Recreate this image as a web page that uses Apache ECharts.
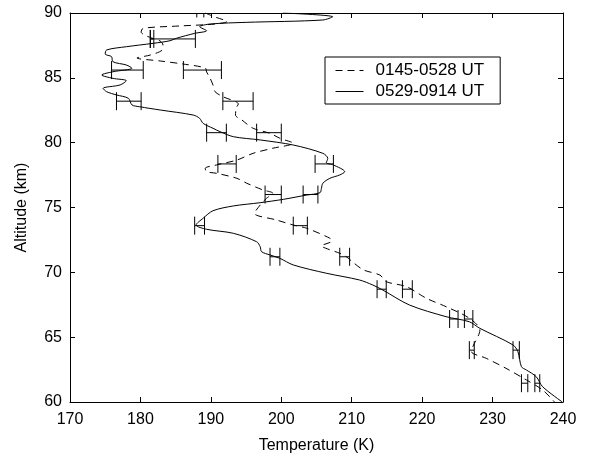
<!DOCTYPE html>
<html>
<head>
<meta charset="utf-8">
<script src="https://cdn.jsdelivr.net/npm/echarts@6/dist/echarts.min.js"></script>
<style>html,body{margin:0;padding:0;background:#fff}#c{width:589px;height:459px}</style>
</head>
<body>
<div id="c"></div>
<script>
// Temperature (K), Altitude (km) profiles
const seriesNames = ['0145-0528 UT', '0529-0914 UT'];
const dashedProfile = [[189.2,90.0],[190.6,89.69],[192.3,89.34],[190.6,89.15],[185.6,89.0],[180.4,88.82],[180.1,88.53],[180.6,88.30],[181.6,88.07],[182.8,87.84],[183.2,87.53],[183.1,87.15],[181.4,86.76],[179.5,86.53],[182.8,86.30],[186.0,86.07],[189.2,85.76],[189.4,85.45],[189.9,84.96],[190.3,84.45],[190.6,83.93],[191.7,83.55],[193.9,82.98],[193.6,82.67],[193.5,82.13],[194.4,81.75],[196.0,81.11],[198.4,80.72],[199.8,80.34],[201.7,79.95],[198.8,79.57],[196.0,79.18],[193.7,78.66],[190.8,78.28],[189.2,78.02],[189.4,77.76],[190.8,77.64],[193.7,77.25],[195.1,76.87],[197.4,76.35],[198.8,76.10],[197.9,75.71],[197.0,75.19],[196.2,74.55],[199.3,74.04],[201.7,73.65],[203.6,73.40],[206.9,72.63],[207.2,72.42],[205.7,72.03],[206.6,71.80],[208.3,71.47],[209.3,71.18],[210.3,70.72],[211.7,70.18],[214.0,69.79],[214.9,69.28],[217.8,68.89],[220.6,68.0],[223.4,67.35],[226.7,66.46],[228.2,65.55],[227.2,64.27],[227.0,63.88],[229.1,63.37],[231.9,62.60],[234.8,61.70],[237.1,60.93],[238.8,60.0]];
const solidProfile = [[200.2,90.0],[207.3,89.71],[205.9,89.46],[195.1,89.28],[189.9,89.15],[188.4,88.94],[189.4,88.63],[187.7,88.43],[185.1,88.05],[184.2,87.86],[181.8,87.66],[178.0,87.40],[175.2,87.15],[175.0,86.84],[175.9,86.63],[176.1,86.24],[178.0,85.99],[178.8,85.74],[176.1,85.47],[174.5,85.22],[176.1,84.96],[178.0,84.78],[177.1,84.45],[174.7,84.19],[175.2,83.93],[176.6,83.68],[178.3,83.42],[178.8,82.91],[179.9,82.77],[182.8,82.52],[187.5,82.13],[188.4,81.88],[188.9,81.49],[190.3,81.11],[191.3,80.85],[193.2,80.46],[197.0,80.21],[201.7,79.82],[205.9,79.18],[206.6,78.79],[206.4,78.46],[207.4,78.28],[209.0,77.76],[208.3,77.51],[206.9,77.25],[205.9,76.87],[205.7,76.48],[205.5,76.14],[203.6,75.96],[200.3,75.63],[197.0,75.37],[193.2,75.12],[190.3,74.75],[188.9,74.17],[187.9,73.65],[189.4,73.32],[193.2,73.01],[196.5,72.36],[197.0,71.98],[197.2,71.59],[198.4,71.34],[199.8,71.08],[201.7,70.57],[206.4,69.93],[211.1,69.41],[213.0,69.02],[214.4,68.64],[218.2,67.48],[223.4,66.58],[226.7,66.19],[228.2,65.68],[232.9,64.40],[233.6,63.88],[234.1,62.72],[234.8,62.47],[236.2,61.95],[237.1,61.18],[239.9,60.0]];
// Error bars: [low T, high T, altitude]
const dashedErrors = [[188.0,189.0,90.35],[181.4,181.9,88.0],[186.1,191.5,85.6],[191.7,196.0,83.2],[196.5,200.0,80.77],[191.0,193.6,78.36],[197.7,200.0,76.0],[201.7,203.7,73.6],[208.3,209.7,71.2],[217.2,218.6,68.7],[226.0,227.2,66.4],[226.7,227.4,64.0],[234.1,235.0,61.45]];
const solidErrors = [[181.4,187.8,88.0],[175.9,180.4,85.6],[176.6,180.1,83.2],[189.4,192.2,80.77],[204.8,207.4,78.36],[203.1,205.2,76.0],[187.7,189.1,73.6],[198.4,199.8,71.2],[213.6,214.9,68.7],[223.9,225.1,66.4],[232.9,233.8,64.0],[236.0,236.7,61.45]];
const xTicks = {min: 170, max: 240, step: 10};
const yTicks = {min: 60, max: 90, step: 5};

const FONT = 'Liberation Sans';
const chart = echarts.init(document.getElementById('c'), null, {renderer: 'canvas'});

function errRender(params, api) {
  const lo = api.coord([api.value(0), api.value(2)]);
  const hi = api.coord([api.value(1), api.value(2)]);
  const h = 9;
  const st = {stroke: '#000', lineWidth: 1, fill: null};
  return {
    type: 'group',
    children: [
      {type: 'line', shape: {x1: lo[0], y1: lo[1], x2: hi[0], y2: hi[1]}, style: st},
      {type: 'line', shape: {x1: lo[0], y1: lo[1] - h, x2: lo[0], y2: lo[1] + h}, style: st},
      {type: 'line', shape: {x1: hi[0], y1: hi[1] - h, x2: hi[0], y2: hi[1] + h}, style: st}
    ]
  };
}

const axisCommon = {
  type: 'value',
  splitLine: {show: false},
  axisLine: {show: true, onZero: false, lineStyle: {color: '#000', width: 1}},
  axisTick: {show: true, inside: true, length: 5, lineStyle: {color: '#000'}},
};

chart.setOption({
  animation: false,
  backgroundColor: '#fff',
  textStyle: {fontFamily: FONT},
  grid: {left: 70, right: 26, top: 13, bottom: 57},
  legend: {
    data: seriesNames,
    orient: 'vertical',
    left: 325, top: 57,
    padding: [5, 16, 4, 10],
    itemWidth: 28, itemHeight: 14, itemGap: 4,
    borderColor: '#000', borderWidth: 1,
    itemStyle: {color: 'rgba(0,0,0,0)', borderWidth: 0, opacity: 0},
    lineStyle: {width: 1, color: '#000'},
    textStyle: {fontFamily: FONT, fontSize: 17, color: '#000', padding: [0, 0, 0, 7]},
    inactiveColor: '#000'
  },
  xAxis: [
    Object.assign({}, axisCommon, {
      position: 'bottom', min: xTicks.min, max: xTicks.max, interval: xTicks.step,
      name: 'Temperature (K)', nameLocation: 'middle', nameGap: 36,
      nameTextStyle: {fontFamily: FONT, fontSize: 16, color: '#000'},
      axisLabel: {fontFamily: FONT, fontSize: 16, color: '#000', margin: 10}
    }),
    Object.assign({}, axisCommon, {
      position: 'top', min: xTicks.min, max: xTicks.max, interval: xTicks.step,
      axisLabel: {show: false}
    })
  ],
  yAxis: [
    Object.assign({}, axisCommon, {
      position: 'left', min: yTicks.min, max: yTicks.max, interval: yTicks.step,
      name: 'Altitude (km)', nameLocation: 'middle', nameGap: 40,
      nameTextStyle: {fontFamily: FONT, fontSize: 16, color: '#000'},
      axisLabel: {fontFamily: FONT, fontSize: 16, color: '#000', margin: 8}
    }),
    Object.assign({}, axisCommon, {
      position: 'right', min: yTicks.min, max: yTicks.max, interval: yTicks.step,
      axisLabel: {show: false}
    })
  ],
  series: [
    {
      name: seriesNames[0], type: 'line', data: dashedProfile,
      xAxisIndex: 0, yAxisIndex: 0,
      symbol: 'none', smooth: 0.3, color: '#000',
      lineStyle: {color: '#000', width: 1, type: [7, 5]}
    },
    {
      name: seriesNames[1], type: 'line', data: solidProfile,
      xAxisIndex: 0, yAxisIndex: 0,
      symbol: 'none', smooth: 0.3, color: '#000',
      lineStyle: {color: '#000', width: 1, type: 'solid'}
    },
    {
      type: 'custom', name: 'errDashed', data: dashedErrors, renderItem: errRender,
      xAxisIndex: 0, yAxisIndex: 0, clip: true,
      encode: {x: [0, 1], y: 2}, silent: true
    },
    {
      type: 'custom', name: 'errSolid', data: solidErrors, renderItem: errRender,
      xAxisIndex: 0, yAxisIndex: 0, clip: true,
      encode: {x: [0, 1], y: 2}, silent: true
    }
  ]
});
</script>
</body>
</html>
